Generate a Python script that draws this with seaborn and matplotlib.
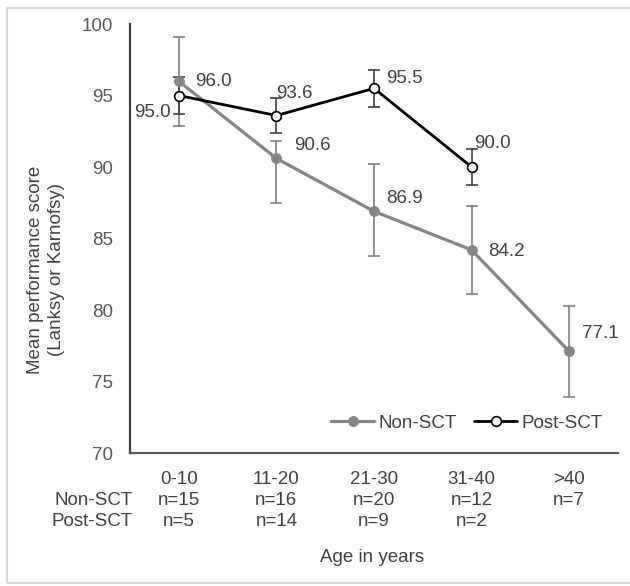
import numpy as np
import pandas as pd
import matplotlib.pyplot as plt
import seaborn as sns
from matplotlib.patches import Rectangle

# Data
age_groups = ['0-10', '11-20', '21-30', '31-40', '>40']
n_non_sct = ['n=15', 'n=16', 'n=20', 'n=12', 'n=7']
n_post_sct = ['n=5', 'n=14', 'n=9', 'n=2', '']

non_sct = [96.0, 90.6, 86.9, 84.2, 77.1]
non_sct_err_lo = [3.1, 3.1, 3.1, 3.1, 3.2]
non_sct_err_hi = [3.1, 1.2, 3.3, 3.1, 3.2]

post_sct = [95.0, 93.6, 95.5, 90.0]
post_sct_err = [1.3, 1.2, 1.3, 1.25]

sns.set_theme(style='white')
plt.rcParams['font.family'] = ['Liberation Sans', 'DejaVu Sans']
FS = 13.5

df_non = pd.DataFrame({'pos': np.arange(len(non_sct)), 'score': non_sct})
df_post = pd.DataFrame({'pos': np.arange(len(post_sct)), 'score': post_sct})

fig = plt.figure(figsize=(6.3, 5.86), dpi=100)
ax = fig.add_axes([130 / 630, 1 - 453 / 586, 488 / 630, 429 / 586])

# error bars first so the markers sit on top
ax.errorbar(df_non['pos'], df_non['score'], yerr=[non_sct_err_lo, non_sct_err_hi],
            fmt='none', ecolor='#7f7f7f', elinewidth=1.2, capsize=4, capthick=1.2, zorder=2)
ax.errorbar(df_post['pos'], df_post['score'], yerr=post_sct_err,
            fmt='none', ecolor='#404040', elinewidth=1.2, capsize=4, capthick=1.2, zorder=2)

sns.lineplot(data=df_non, x='pos', y='score', ax=ax, color='#858585', lw=2.3,
             marker='o', markersize=7, markeredgecolor='#858585', label='Non-SCT', zorder=3)
sns.lineplot(data=df_post, x='pos', y='score', ax=ax, color='black', lw=2.0,
             marker='o', markersize=7, markerfacecolor='white', markeredgecolor='black',
             markeredgewidth=1.2, label='Post-SCT', zorder=4)

# value labels (offsets in points)
non_offsets = [(12, 0), (13, 9), (9, 9), (12, -1), (9, 13)]
post_offsets = [(-6, -12), (0, 16), (9, 7), (2, 17)]
for i, v in enumerate(non_sct):
    ax.annotate(f'{v:.1f}', (i, v), xytext=non_offsets[i], textcoords='offset points',
                ha='left', va='center', fontsize=FS, color='#404040', zorder=5)
for i, v in enumerate(post_sct):
    ha = 'right' if post_offsets[i][0] < 0 else 'left'
    ax.annotate(f'{v:.1f}', (i, v), xytext=post_offsets[i], textcoords='offset points',
                ha=ha, va='center', fontsize=FS, color='#404040', zorder=5)

ax.set_xlim(-0.5, 4.5)
ax.set_ylim(70, 100)
ax.set_yticks(range(70, 101, 5))
ax.set_xticks(range(len(age_groups)))
tick_pad = 13
ax.set_xticklabels([f'{a}\n{n1}\n{n2}' for a, n1, n2 in zip(age_groups, n_non_sct, n_post_sct)],
                   fontsize=FS, color='#404040', linespacing=1.3)
ax.tick_params(axis='x', length=0, pad=tick_pad)
ax.tick_params(axis='y', length=0, pad=12, labelsize=FS, labelcolor='#595959')
ax.set_xlabel('')
ax.set_ylabel('')

ax.annotate('\nNon-SCT\nPost-SCT', (0.006, 0), xycoords='axes fraction',
            xytext=(0, -tick_pad), textcoords='offset points',
            ha='right', va='top', fontsize=FS, color='#404040', linespacing=1.3)

for side in ['top', 'right']:
    ax.spines[side].set_visible(False)
ax.spines['left'].set_color('#404040')
ax.spines['left'].set_linewidth(1.6)
ax.spines['bottom'].set_color('#595959')
ax.spines['bottom'].set_linewidth(1.6)

leg = ax.legend(loc='center right', bbox_to_anchor=((603 - 130) / 488, 30 / 429),
                ncol=2, frameon=False, fontsize=FS, handlelength=2.3,
                handletextpad=0.25, columnspacing=0.9, borderpad=0, borderaxespad=0)
for t in leg.get_texts():
    t.set_color('#404040')

fig.text(372 / 630, 1 - 558 / 586, 'Age in years', ha='center', va='center',
         fontsize=FS, color='#404040')
fig.text(46 / 630, 1 - 270 / 586, 'Mean performance score\n(Lanksy or Karnofsy)',
         rotation=90, ha='center', va='center', multialignment='center',
         fontsize=FS, color='#404040', linespacing=1.25)

fig.patches.append(Rectangle((7 / 630, 3 / 586), 1.0, 575 / 586, transform=fig.transFigure,
                             fill=False, ec='#d9d9d9', lw=1.5))

fig.savefig('out.png', dpi=100)
